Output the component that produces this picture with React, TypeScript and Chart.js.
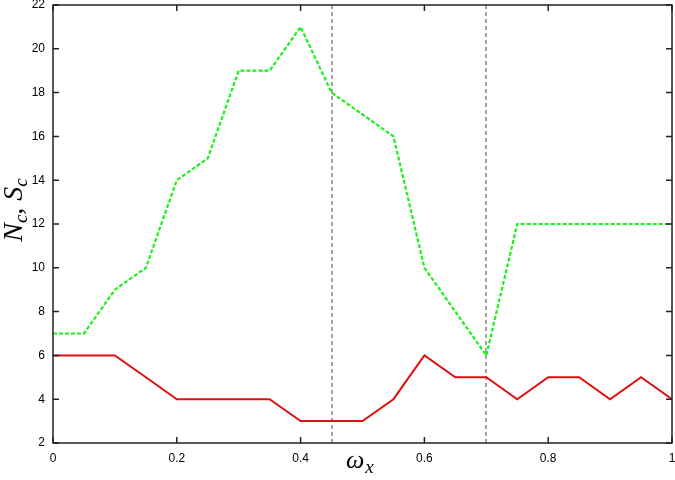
import React, { useEffect, useRef } from "react";
import { Chart, registerables } from "chart.js";

Chart.register(...registerables);

const xValues = [0, 0.05, 0.1, 0.15, 0.2, 0.25, 0.3, 0.35, 0.4, 0.45, 0.5, 0.55, 0.6, 0.65, 0.7, 0.75, 0.8, 0.85, 0.9, 0.95, 1.0];
const greenSc = [7, 7, 9, 10, 14, 15, 19, 19, 21, 18, 17, 16, 10, 8, 6, 12, 12, 12, 12, 12, 12];
const redNc = [6, 6, 6, 5, 4, 4, 4, 4, 3, 3, 3, 4, 6, 5, 5, 4, 5, 5, 4, 5, 4];
const markerLines = [0.45, 0.7];
const xTickValues = [0, 0.2, 0.4, 0.6, 0.8, 1];
const yTickValues = [2, 4, 6, 8, 10, 12, 14, 16, 18, 20, 22];

const framePlugin = {
  id: "frame",
  beforeDatasetsDraw(chart: any) {
    const { ctx, chartArea: a, scales } = chart;
    const xs = scales.x;
    ctx.save();
    ctx.strokeStyle = "#a4a4a4";
    ctx.lineWidth = 2;
    ctx.setLineDash([4, 3]);
    for (const v of markerLines) {
      const px = Math.round(xs.getPixelForValue(v));
      ctx.beginPath();
      ctx.moveTo(px, a.top);
      ctx.lineTo(px, a.bottom);
      ctx.stroke();
    }
    ctx.restore();
  },
  afterDraw(chart: any) {
    const { ctx, chartArea: a, scales } = chart;
    const xs = scales.x;
    const ys = scales.y;
    ctx.save();
    ctx.strokeStyle = "#222";
    ctx.lineWidth = 1.5;
    ctx.setLineDash([]);
    ctx.strokeRect(a.left, a.top, a.right - a.left, a.bottom - a.top);
    const tl = 6;
    ctx.beginPath();
    for (const v of xTickValues) {
      const px = xs.getPixelForValue(v);
      ctx.moveTo(px, a.bottom);
      ctx.lineTo(px, a.bottom - tl);
      ctx.moveTo(px, a.top);
      ctx.lineTo(px, a.top + tl);
    }
    for (const v of yTickValues) {
      const py = ys.getPixelForValue(v);
      ctx.moveTo(a.left, py);
      ctx.lineTo(a.left + tl, py);
      ctx.moveTo(a.right, py);
      ctx.lineTo(a.right - tl, py);
    }
    ctx.stroke();

    // x title: ω_x
    ctx.fillStyle = "#000";
    ctx.textBaseline = "alphabetic";
    ctx.textAlign = "left";
    ctx.font = "italic 26px 'Liberation Serif', serif";
    const wx = 346;
    const wy = 468;
    ctx.fillText("ω", wx, wy);
    const ww = ctx.measureText("ω").width;
    ctx.font = "italic 19px 'Liberation Serif', serif";
    ctx.fillText("x", wx + ww + 1, wy + 5);

    // y title: N_c, S_c (rotated)
    ctx.save();
    ctx.translate(22, 210);
    ctx.rotate(-Math.PI / 2);
    const parts: [string, boolean][] = [["N", false], ["c", true], [", ", false], ["S", false], ["c", true]];
    const big = "italic 28px 'Liberation Serif', serif";
    const small = "italic 19px 'Liberation Serif', serif";
    let total = 0;
    for (const [t, sub] of parts) {
      ctx.font = sub ? small : big;
      total += ctx.measureText(t).width;
    }
    let cx = -total / 2;
    for (const [t, sub] of parts) {
      ctx.font = sub ? small : big;
      ctx.fillText(t, cx, sub ? 5 : 0);
      cx += ctx.measureText(t).width;
    }
    ctx.restore();
    ctx.restore();
  },
};

export default function App() {
  const ref = useRef<HTMLCanvasElement | null>(null);
  useEffect(() => {
    document.body.style.margin = "0";
    const canvas = ref.current!;
    const chart = new Chart(canvas, {
      type: "line",
      data: {
        datasets: [
          {
            label: "S_c",
            data: xValues.map((x, i) => ({ x, y: greenSc[i] })),
            borderColor: "#1ef01e",
            borderWidth: 2.2,
            borderDash: [4, 2],
            pointRadius: 0,
            tension: 0,
            fill: false,
          },
          {
            label: "N_c",
            data: xValues.map((x, i) => ({ x, y: redNc[i] })),
            borderColor: "#e01010",
            borderWidth: 2,
            pointRadius: 0,
            tension: 0,
            fill: false,
          },
        ],
      },
      options: {
        animation: false,
        responsive: false,
        maintainAspectRatio: false,
        layout: { padding: { top: 5, right: 3, left: 0, bottom: 0 } },
        plugins: { legend: { display: false }, tooltip: { enabled: false } },
        scales: {
          x: {
            type: "linear",
            min: 0,
            max: 1,
            afterBuildTicks: (s: any) => {
              s.ticks = xTickValues.map((v) => ({ value: v }));
            },
            afterFit: (s: any) => {
              s.height = 37;
              s.paddingLeft = 0;
              s.paddingRight = 0;
            },
            grid: { display: false, drawTicks: false },
            border: { display: false },
            ticks: {
              color: "#000",
              padding: 8,
              maxRotation: 0,
              font: { family: "'Liberation Sans', Arial, sans-serif", size: 12 },
              callback: (v: any) => String(Number(v)),
            },
          },
          y: {
            type: "linear",
            min: 2,
            max: 22,
            afterBuildTicks: (s: any) => {
              s.ticks = yTickValues.map((v) => ({ value: v }));
            },
            afterFit: (s: any) => {
              s.width = 53;
              s.paddingTop = 0;
              s.paddingBottom = 0;
            },
            grid: { display: false, drawTicks: false },
            border: { display: false },
            ticks: {
              color: "#000",
              padding: 8,
              font: { family: "'Liberation Sans', Arial, sans-serif", size: 12 },
            },
          },
        },
      },
      plugins: [framePlugin],
    });
    return () => chart.destroy();
  }, []);
  return <canvas ref={ref} width={675} height={480} style={{ display: "block" }} />;
}
